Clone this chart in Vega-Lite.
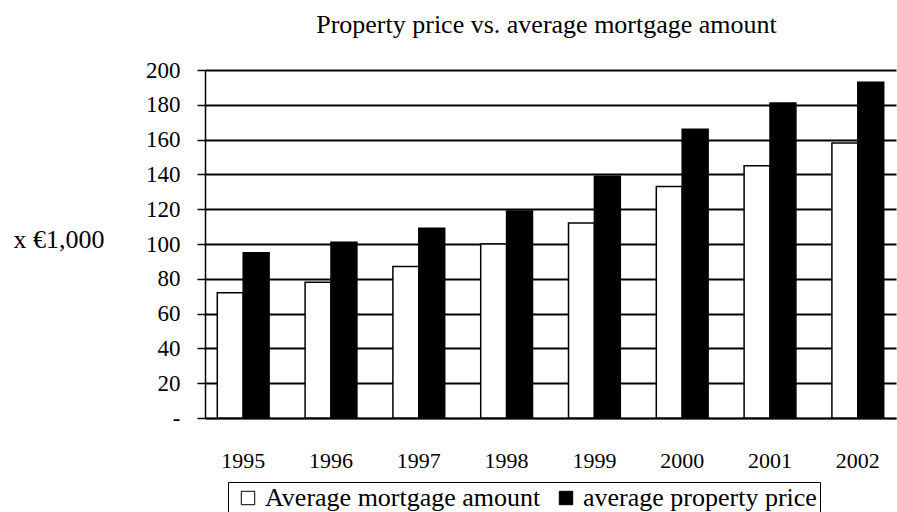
{
  "$schema": "https://vega.github.io/schema/vega-lite/v6.json",
  "width": 691,
  "height": 348,
  "autosize": "none",
  "padding": {"left": 205, "top": 70, "right": 1, "bottom": 94},
  "background": "white",
  "title": {
    "text": "Property price vs. average mortgage amount",
    "font": "Liberation Serif",
    "fontSize": 26,
    "fontWeight": "normal",
    "color": "black",
    "anchor": "middle",
    "frame": "group",
    "baseline": "alphabetic",
    "dx": -4,
    "offset": 0
  },
  "data": {
    "values": [
      {"year": "1995", "series": "Average mortgage amount", "value": 72},
      {"year": "1995", "series": "average property price", "value": 95},
      {"year": "1996", "series": "Average mortgage amount", "value": 78},
      {"year": "1996", "series": "average property price", "value": 101},
      {"year": "1997", "series": "Average mortgage amount", "value": 87},
      {"year": "1997", "series": "average property price", "value": 109},
      {"year": "1998", "series": "Average mortgage amount", "value": 100},
      {"year": "1998", "series": "average property price", "value": 119},
      {"year": "1999", "series": "Average mortgage amount", "value": 112},
      {"year": "1999", "series": "average property price", "value": 139},
      {"year": "2000", "series": "Average mortgage amount", "value": 133},
      {"year": "2000", "series": "average property price", "value": 166},
      {"year": "2001", "series": "Average mortgage amount", "value": 145},
      {"year": "2001", "series": "average property price", "value": 181},
      {"year": "2002", "series": "Average mortgage amount", "value": 158},
      {"year": "2002", "series": "average property price", "value": 193}
    ]
  },
  "mark": {"type": "bar", "stroke": "black", "strokeWidth": 1.5},
  "encoding": {
    "x": {
      "field": "year",
      "type": "nominal",
      "scale": {"paddingInner": 0.41, "paddingOuter": 0.14},
      "axis": {
        "title": null,
        "labelAngle": 0,
        "ticks": false,
        "tickSize": 0,
        "domain": true,
        "domainColor": "black",
        "domainWidth": 1.5,
        "labelFont": "Liberation Serif",
        "labelFontSize": 22,
        "labelColor": "black",
        "labelBaseline": "alphabetic",
        "labelPadding": 49
      }
    },
    "xOffset": {
      "field": "series",
      "type": "nominal",
      "scale": {"domain": ["Average mortgage amount", "average property price"], "paddingInner": 0, "paddingOuter": 0}
    },
    "y": {
      "field": "value",
      "type": "quantitative",
      "scale": {"domain": [0, 200], "nice": false},
      "axis": {
        "values": [0, 20, 40, 60, 80, 100, 120, 140, 160, 180, 200],
        "labelExpr": "datum.value == 0 ? '-' : datum.label",
        "title": "x €1,000",
        "titleAngle": 0,
        "titleX": -192,
        "titleY": 177,
        "titleAlign": "left",
        "titleBaseline": "alphabetic",
        "titleFont": "Liberation Serif",
        "titleFontSize": 26,
        "titleFontWeight": "normal",
        "titleColor": "black",
        "labelFont": "Liberation Serif",
        "labelFontSize": 23,
        "labelColor": "black",
        "labelPadding": 17,
        "tickSize": 8,
        "tickColor": "black",
        "tickWidth": 1.5,
        "domainColor": "black",
        "domainWidth": 1.5,
        "grid": true,
        "gridColor": "black",
        "gridWidth": 1.8,
        "gridOpacity": 1
      }
    },
    "fill": {
      "field": "series",
      "type": "nominal",
      "scale": {"domain": ["Average mortgage amount", "average property price"], "range": ["white", "black"]},
      "legend": {
        "title": null,
        "orient": "none",
        "direction": "horizontal",
        "legendX": 23,
        "legendY": 412,
        "strokeColor": "black",
        "padding": 3,
        "symbolType": "square",
        "symbolSize": 180,
        "symbolOffset": 4,
        "symbolStrokeColor": "black",
        "symbolStrokeWidth": 1,
        "symbolOpacity": 1,
        "labelFont": "Liberation Serif",
        "labelFontSize": 26,
        "labelColor": "black",
        "labelLimit": 500,
        "columnPadding": 8,
        "labelOffset": 4
      }
    }
  },
  "config": {
    "font": "Liberation Serif",
    "view": {"stroke": null},
    "axis": {"gridDash": []}
  }
}
